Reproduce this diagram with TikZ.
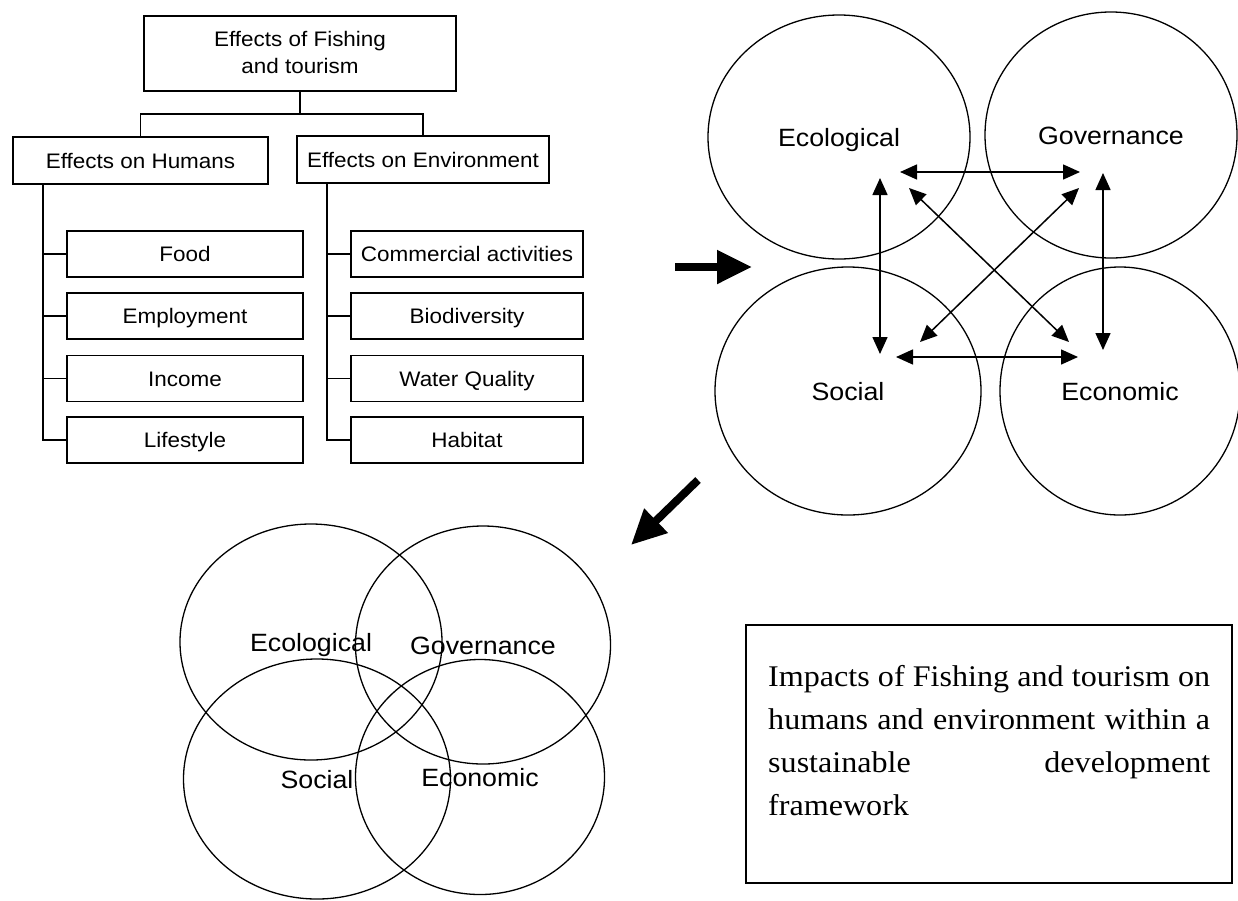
\documentclass[tikz,border=0pt]{standalone}
\usepackage{fontspec}
\setmainfont[FakeStretch=1.07]{Liberation Serif}
\newfontfamily\sansf[FakeStretch=1.07]{Liberation Sans}
\usetikzlibrary{arrows.meta,shapes.geometric}
\begin{document}
\begin{tikzpicture}[x=1pt,y=-1pt,
  treebox/.style={draw, line width=1.4pt, inner sep=0pt, font=\sansf\fontsize{21}{27}\selectfont, text height=15pt, text depth=0pt},
  treelbl/.style={inner sep=0pt, anchor=base, font=\sansf\fontsize{21}{27}\selectfont},
  childL/.style={treebox, minimum width=236pt, minimum height=46pt},
  childR/.style={treebox, minimum width=232pt, minimum height=46pt},
  treeline/.style={line width=1.4pt},
  circ/.style={draw, ellipse, line width=1.3pt, inner sep=0pt, font=\sansf\fontsize{25}{30}\selectfont, text height=18pt, text depth=0pt},
  linkarrow/.style={line width=1.5pt, {Triangle[length=17pt,width=15pt]}-{Triangle[length=17pt,width=15pt]}},
  bigarrow/.style={line width=8pt, -{Triangle[length=35pt,width=32pt]}},
  serifline/.style={inner sep=0pt, anchor=base west, font=\fontsize{30}{36}\selectfont}
]
\useasboundingbox (0,0) rectangle (1238,900);

% ---- tree ----
\node[treebox, minimum width=312pt, minimum height=75pt] (top) at (300,53.5) {};
\node[treelbl] (t1) at (300,46) {Effects of Fishing};
\node[treelbl] (t2) at (300,73) {and tourism};

\node[treebox, minimum width=255pt, minimum height=47pt] (hum) at (140.5,160.5) {Effects on Humans};
\node[treebox, minimum width=252pt, minimum height=47pt] (env) at (423,159.5) {Effects on Environment};

\coordinate (split) at (300,114);
\draw[treeline] (top.south) -- (split) -| (hum.north);
\draw[treeline] (split) -| (env.north);

\node[childL] (food) at (185,254) {Food};
\node[childL] (empl) at (185,316) {Employment};
\node[childL] (inc) at (185,378.5) {Income};
\node[childL] (life) at (185,440) {Lifestyle};

\node[childR] (comm) at (467,254) {Commercial activities};
\node[childR] (bio) at (467,316) {Biodiversity};
\node[childR] (wq) at (467,378.5) {Water Quality};
\node[childR] (hab) at (467,440) {Habitat};

\coordinate (hl) at (43,184);
\coordinate (el) at (327,183);
\foreach \n in {food,empl,inc,life} {\draw[treeline] (hl) |- (\n.west);}
\foreach \n in {comm,bio,wq,hab} {\draw[treeline] (el) |- (\n.west);}

% ---- four separate circles ----
\node[circ, minimum width=262pt, minimum height=244pt] (eco) at (839,137) {Ecological};
\node[circ, minimum width=252pt, minimum height=246pt] (gov) at (1111,135) {Governance};
\node[circ, minimum width=266pt, minimum height=248pt] (soc) at (848,391) {Social};
\node[circ, minimum width=240pt, minimum height=248pt] (econ) at (1120,391) {Economic};

\coordinate (a1) at (900,172); \coordinate (a2) at (1080,172);
\coordinate (b1) at (880,178); \coordinate (b2) at (880,354);
\coordinate (c1) at (1103,173); \coordinate (c2) at (1103,350);
\coordinate (d1) at (909,188); \coordinate (d2) at (1069,342);
\coordinate (e1) at (1079,188); \coordinate (e2) at (920,342);
\coordinate (f1) at (896,357); \coordinate (f2) at (1078,357);
\draw[linkarrow] (a1) -- (a2);
\draw[linkarrow] (b1) -- (b2);
\draw[linkarrow] (c1) -- (c2);
\draw[linkarrow] (d1) -- (d2);
\draw[linkarrow] (e1) -- (e2);
\draw[linkarrow] (f1) -- (f2);

% ---- big arrows ----
\coordinate (g1) at (675,267); \coordinate (g2) at (752,267);
\coordinate (h1) at (698,480); \coordinate (h2) at (631,545);
\draw[bigarrow] (g1) -- (g2);
\draw[bigarrow] (h1) -- (h2);

% ---- Venn ----
\node[circ, minimum width=262pt, minimum height=236pt] (veco) at (311,642) {Ecological};
\node[circ, minimum width=255pt, minimum height=238pt] (vgov) at (483,645) {Governance};
\node[circ, minimum width=267pt, minimum height=240pt] (vsoc) at (317,779) {Social};
\node[circ, minimum width=249pt, minimum height=235pt] (vecon) at (480,777) {Economic};

% ---- text box ----
\node[draw, line width=1.2pt, inner sep=0pt, minimum width=486pt, minimum height=258pt] (tb) at (989,754) {};
\node[serifline] (l1) at (768,686) {\makebox[442pt][s]{Impacts of Fishing and tourism on}};
\node[serifline] (l2) at (768,729) {\makebox[442pt][s]{humans and environment within a}};
\node[serifline] (l3) at (768,772) {\makebox[442pt][s]{sustainable development}};
\node[serifline] (l4) at (768,815) {framework};
\end{tikzpicture}
\end{document}
